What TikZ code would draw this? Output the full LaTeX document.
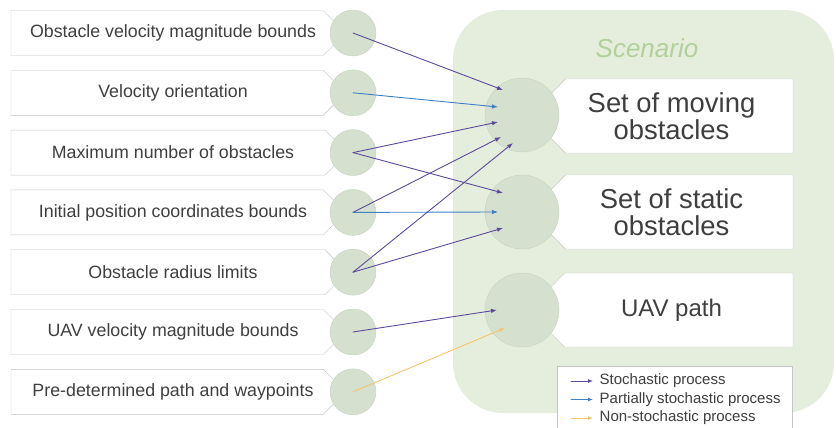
\documentclass[tikz,border=0pt]{standalone}
\usepackage{fontspec}
\setmainfont{Liberation Sans}
\usetikzlibrary{arrows.meta,shapes.misc}

\definecolor{scenfill}{HTML}{E5EEDC}
\definecolor{dotfill}{HTML}{D5E0CE}
\definecolor{dotline}{HTML}{C6D4BE}
\definecolor{boxline}{HTML}{C4C4C4}
\definecolor{txtgray}{HTML}{3F3F3F}
\definecolor{scentxt}{HTML}{B2D09B}
\definecolor{stochcol}{HTML}{5E4A9C}
\definecolor{partcol}{HTML}{3E7FC6}
\definecolor{nonstcol}{HTML}{F3C76E}

\tikzset{
  parbox/.style={chamfered rectangle, chamfered rectangle corners={north east,south east},
    chamfered rectangle xsep=10pt, draw=boxline, fill=white, text=txtgray,
    minimum width=324pt, minimum height=45pt, inner sep=0pt,
    font=\fontsize{17.8}{20}\selectfont},
  pardot/.style={circle, fill=dotfill, draw=dotline, minimum size=46pt, inner sep=0pt},
  outbox/.style={chamfered rectangle, chamfered rectangle corners={north west,south west},
    chamfered rectangle xsep=12pt, draw=boxline, fill=white, text=txtgray,
    minimum width=243pt, minimum height=74pt, inner sep=0pt, align=center,
    font=\fontsize{27.4}{26.5}\selectfont},
  outdot/.style={circle, fill=dotfill, draw=dotline, minimum size=74pt, inner sep=0pt},
  legtext/.style={anchor=west, inner sep=1.5pt, text=txtgray, font=\fontsize{15}{18}\selectfont},
  stoch/.style={->, stochcol, line width=0.9pt},
  partial/.style={->, partcol, line width=0.9pt},
  nonstoch/.style={->, nonstcol, line width=0.9pt},
}

\begin{document}
\begin{tikzpicture}[x=1pt, y=-1pt, >={Latex[length=6pt,width=4.5pt]}, line cap=round]

  \useasboundingbox (0,0) rectangle (836,428);

  % the scenario area
  \fill[scenfill, rounded corners=50pt] (453,10) rectangle (834,413);
  \node[text=scentxt, font=\fontsize{26}{28}\selectfont\itshape] (scen) at (647,48) {Scenario};

  % input parameters, each with its dot
  \foreach \i/\txt in {1/Obstacle velocity magnitude bounds, 2/Velocity orientation,
      3/Maximum number of obstacles, 4/Initial position coordinates bounds,
      5/Obstacle radius limits, 6/UAV velocity magnitude bounds,
      7/Pre-determined path and waypoints}{
    \node[parbox] (b\i) at (173,{33+59.8*(\i-1)}) {\txt};
    \node[pardot] (p\i) at (353,{33+59.8*(\i-1)}) {};
  }

  % elements of the scenario
  \node[outbox] (bm) at (671.5,116) {Set of moving\\obstacles};
  \node[outdot] (m) at (522,115) {};
  \node[outbox] (bs) at (671.5,212) {Set of static\\obstacles};
  \node[outdot] (s) at (522,212) {};
  \node[outbox, font=\fontsize{24}{26}\selectfont] (bu) at (671.5,310) {UAV path};
  \node[outdot] (u) at (522,310) {};

  % where the arrows end inside the dots
  \path (m.center) ++(-19,-25) coordinate (m1);
  \path (m.center) ++(-24,-8) coordinate (m2);
  \path (m.center) ++(-24,7) coordinate (m3);
  \path (m.center) ++(-21,22) coordinate (m4);
  \path (m.center) ++(-9,28) coordinate (m5);
  \path (s.center) ++(-19,-19) coordinate (s1);
  \path (s.center) ++(-24,0) coordinate (s2);
  \path (s.center) ++(-19,16) coordinate (s3);
  \path (u.center) ++(-25,0) coordinate (u1);
  \path (u.center) ++(-17,18) coordinate (u2);

  % the processes
  \draw[stoch] (p1.center) -- (m1);
  \draw[partial] (p2.center) -- (m2);
  \draw[stoch] (p3.center) -- (m3);
  \draw[stoch] (p3.center) -- (s1);
  \draw[stoch] (p4.center) -- (m4);
  \draw[partial] (p4.center) -- (s2);
  \draw[stoch] (p5.center) -- (m5);
  \draw[stoch] (p5.center) -- (s3);
  \draw[stoch] (p6.center) -- (u1);
  \draw[nonstoch] (p7.center) -- (u2);

  % legend
  \draw[boxline, fill=white] (557,366) rectangle (792,434);
  \node[legtext] (l1) at (598,381) {Stochastic process};
  \node[legtext] (l2) at (598,399.5) {Partially stochastic process};
  \node[legtext] (l3) at (598,418) {Non-stochastic process};
  \draw[stoch, >={Latex[length=5pt,width=4pt]}] ([xshift=-27pt]l1.west) -- ([xshift=-5pt]l1.west);
  \draw[partial, >={Latex[length=5pt,width=4pt]}] ([xshift=-27pt]l2.west) -- ([xshift=-5pt]l2.west);
  \draw[nonstoch, >={Latex[length=5pt,width=4pt]}] ([xshift=-27pt]l3.west) -- ([xshift=-5pt]l3.west);

\end{tikzpicture}
\end{document}
